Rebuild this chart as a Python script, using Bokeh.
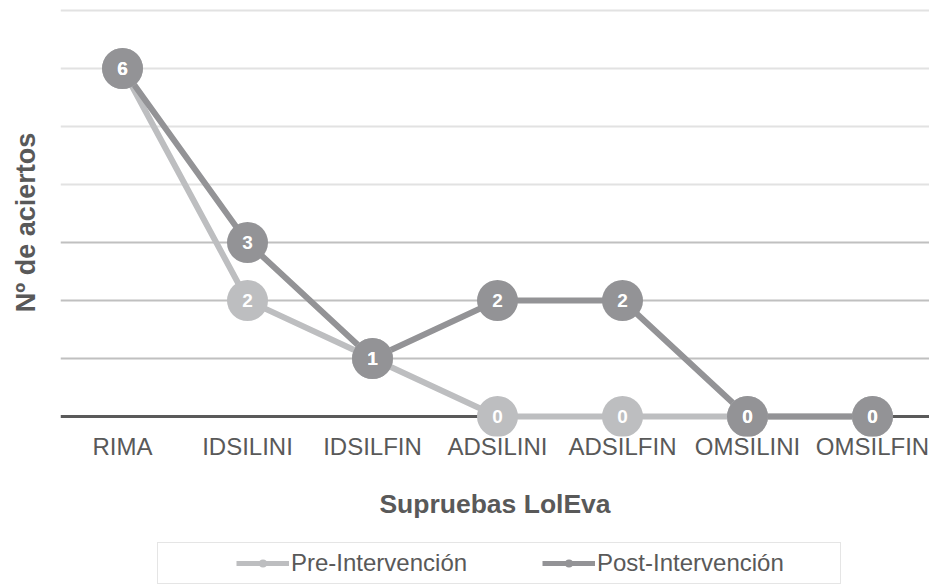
from bokeh.plotting import figure
from bokeh.layouts import column
from bokeh.models import Range1d, FixedTicker, Grid, Legend, LegendItem, ColumnDataSource
from bokeh.core.properties import value
from bokeh.embed import file_html
from bokeh.resources import INLINE

categories = ["RIMA", "IDSILINI", "IDSILFIN", "ADSILINI", "ADSILFIN", "OMSILINI", "OMSILFIN"]
pre = [6, 2, 1, 0, 0, 0, 0]
post = [6, 3, 1, 2, 2, 0, 0]
series_names = ["Pre-Intervención", "Post-Intervención"]
grid_strong = [1, 2, 3]
grid_light = [4, 5, 6, 7]
baseline = [0]

PRE_C = "#bdbec0"
POST_C = "#939396"
TXT = "#595959"
FONT = "Liberation Sans"

xs = list(range(len(categories)))
src_pre = ColumnDataSource(dict(x=xs, y=pre, lab=[str(v) for v in pre]))
src_post = ColumnDataSource(dict(x=xs, y=post, lab=[str(v) for v in post]))

p = figure(frame_width=869, frame_height=428, output_backend="svg", toolbar_location=None,
           x_range=Range1d(-0.496, 6.456), y_range=Range1d(-0.345, 7.034),
           min_border_left=60, min_border_right=0, min_border_top=8, min_border_bottom=100)
p.outline_line_color = None
p.xgrid.visible = False
p.ygrid.visible = False
p.background_fill_color = "white"

# grids
p.add_layout(Grid(dimension=1, ticker=FixedTicker(ticks=grid_light), grid_line_color="#e2e2e2", grid_line_width=2))
p.add_layout(Grid(dimension=1, ticker=FixedTicker(ticks=grid_strong), grid_line_color="#c0c0c0", grid_line_width=2))
p.add_layout(Grid(dimension=1, ticker=FixedTicker(ticks=baseline), grid_line_color="#5a5a5a", grid_line_width=3))

# y axis
p.yaxis.ticker = FixedTicker(ticks=[])
p.yaxis.axis_line_color = None
p.yaxis.major_tick_line_color = None
p.yaxis.minor_tick_line_color = None
p.yaxis.axis_label = "Nº de aciertos"
p.yaxis.axis_label_text_font = FONT
p.yaxis.axis_label_text_font_style = "bold"
p.yaxis.axis_label_text_font_size = "27px"
p.yaxis.axis_label_text_color = TXT
p.yaxis.axis_label_standoff = 20

# x axis
p.xaxis.ticker = FixedTicker(ticks=xs)
p.xaxis.major_label_overrides = {i: c for i, c in enumerate(categories)}
p.xaxis.axis_line_color = None
p.xaxis.major_tick_line_color = None
p.xaxis.minor_tick_line_color = None
p.xaxis.major_label_standoff = -10
p.xaxis.major_label_text_font = FONT
p.xaxis.major_label_text_font_size = "24px"
p.xaxis.major_label_text_color = TXT
p.xaxis.axis_label = "Supruebas LolEva"
p.xaxis.axis_label_text_font = FONT
p.xaxis.axis_label_text_font_style = "bold"
p.xaxis.axis_label_text_font_size = "26.5px"
p.xaxis.axis_label_text_color = TXT
p.xaxis.axis_label_standoff = 26

p.line("x", "y", source=src_pre, line_color=PRE_C, line_width=6, line_join="round")
p.line("x", "y", source=src_post, line_color=POST_C, line_width=6, line_join="round")
p.scatter("x", "y", source=src_pre, size=41, fill_color=PRE_C, line_color=None)
p.scatter("x", "y", source=src_post, size=41, fill_color=POST_C, line_color=None)
p.text("x", "y", text="lab", source=src_pre, text_color="white", text_font=value(FONT),
       text_font_style="bold", text_font_size="19px", text_align="center", text_baseline="middle")
p.text("x", "y", text="lab", source=src_post, text_color="white", text_font=value(FONT),
       text_font_style="bold", text_font_size="19px", text_align="center", text_baseline="middle")

# legend strip (separate small figure below the chart; its view range shows no data)
q = figure(width=929, height=48, output_backend="svg", toolbar_location=None,
           x_range=Range1d(-20, -19), y_range=Range1d(-20, -19),
           min_border_left=0, min_border_right=0, min_border_top=0, min_border_bottom=0)
q.axis.visible = False
q.grid.visible = False
q.outline_line_color = None
ql_pre = q.line("x", "y", source=src_pre, line_color=PRE_C, line_width=5)
qs_pre = q.scatter("x", "y", source=src_pre, size=10, fill_color=PRE_C, line_color=None)
ql_post = q.line("x", "y", source=src_post, line_color=POST_C, line_width=5)
qs_post = q.scatter("x", "y", source=src_post, size=10, fill_color=POST_C, line_color=None)

legend = Legend(items=[LegendItem(label=series_names[0], renderers=[ql_pre, qs_pre]),
                       LegendItem(label=series_names[1], renderers=[ql_post, qs_post])],
                orientation="horizontal", location=(97, 0),
                title=" ", title_location="left", title_text_font_size="12px", title_standoff=58,
                glyph_width=53, glyph_height=20, label_standoff=2, spacing=14, label_width=237,
                padding=6, margin=0,
                border_line_color="#cccccc", border_line_width=1,
                label_text_font=FONT, label_text_font_size="24px", label_text_color=TXT)
q.add_layout(legend)

layout = column(p, q, spacing=0)
open("out.html", "w").write(file_html(layout, INLINE))
